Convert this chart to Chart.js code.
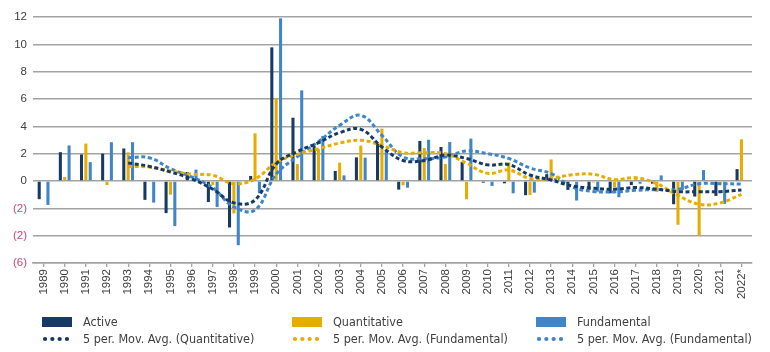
<!DOCTYPE html>
<html>
<head>
<meta charset="utf-8">
<script src="https://cdn.jsdelivr.net/npm/chart.js@4/dist/chart.umd.min.js"></script>
<style>
  html, body { margin: 0; padding: 0; background: #ffffff; }
  #wrap { position: relative; width: 770px; height: 352px; }
  #c { position: absolute; left: 0; top: 0; }
  .leg { position: absolute; font-family: 'Liberation Sans Narrow', 'Arial Narrow', 'DejaVu Sans Condensed', sans-serif; font-size: 12.5px; color: #404040; white-space: nowrap; line-height: 14px; }
  .leg .sw { position: absolute; left: 0; top: 2px; width: 30px; height: 10px; }
  .leg .tx { position: absolute; left: 41px; top: 0; }
</style>
</head>
<body>
<div id="wrap">
  <canvas id="c" width="770" height="352"></canvas>
</div>
<script>
// ---- data ----
const years = ['1989','1990','1991','1992','1993','1994','1995','1996','1997','1998','1999','2000','2001','2002','2003','2004','2005','2006','2007','2008','2009','2010','2011','2012','2013','2014','2015','2016','2017','2018','2019','2020','2021','2022*'];

const active = [-1.33, 2.11, 1.94, 2.0, 2.38, -1.38, -2.35, 0.66, -1.54, -3.4, 0.37, 9.78, 4.63, 2.56, 0.73, 1.73, 2.73, -0.63, 2.93, 2.49, 1.39, -0.12, -0.17, -1.04, 0.5, -0.65, -0.65, -0.9, -0.3, -0.2, -1.7, -1.14, -1.09, 0.87];
const quantitative = [0, 0.29, 2.74, -0.3, 2.1, 0, -1.0, 0.1, -0.3, -2.37, 3.49, 6.05, 1.24, 2.32, 1.34, 2.59, 3.83, -0.32, 2.41, 1.24, -1.34, 0, 1.36, -1.02, 1.58, 0.05, -0.1, -0.45, 0.3, -0.8, -3.2, -4.0, -0.3, 3.05];
const fundamental = [-1.75, 2.6, 1.38, 2.84, 2.84, -1.58, -3.3, 0.83, -1.9, -4.7, -0.9, 11.9, 6.63, 3.3, 0.41, 1.71, 2.24, -0.49, 3.02, 2.85, 3.1, -0.36, -0.9, -0.85, 0.2, -1.43, -0.78, -1.19, -0.2, 0.41, -0.65, 0.8, -1.67, 0];

const maActive = [null, null, null, null, 1.32, 1.07, 0.66, 0.15, -0.6, -1.6, -1.39, 1.24, 2.15, 2.8, 3.54, 3.78, 2.49, 1.5, 1.5, 1.88, 1.65, 1.18, 1.2, 0.44, 0.07, -0.36, -0.53, -0.6, -0.48, -0.6, -0.78, -0.78, -0.78, -0.65];
const maQuant = [null, null, null, null, 1.07, 1.02, 0.73, 0.5, 0.42, -0.2, 0.15, 1.35, 1.95, 2.35, 2.78, 2.98, 2.61, 2.07, 2.07, 2.0, 1.3, 0.56, 0.8, 0.19, 0.19, 0.46, 0.49, 0.1, 0.24, -0.2, -1.05, -1.7, -1.6, -0.98];
const maFund = [null, null, null, null, 1.7, 1.7, 0.9, 0.3, -0.5, -1.9, -2.12, 0.5, 1.78, 2.88, 4.07, 4.8, 3.34, 1.76, 1.63, 1.76, 2.2, 2.0, 1.65, 0.95, 0.54, -0.44, -0.76, -0.8, -0.68, -0.63, -0.6, -0.2, -0.2, -0.22];

const yTickValues = [12, 10, 8, 6, 4, 2, 0, -2, -4, -6];
const yTickLabels = ['12', '10', '8', '6', '4', '2', '0', '(2)', '(2)', '(6)'];

const seriesNames = ['Active', 'Quantitative', 'Fundamental', '5 per. Mov. Avg. (Quantitative)', '5 per. Mov. Avg. (Fundamental)', '5 per. Mov. Avg. (Fundamental)'];

// ---- styling ----
const NAVY = '#173a64';
const GOLD = '#e6ad00';
const BLUE = '#3f86c8';
const GRID = '#a3a3a3';
const TXT = '#404040';
const NEG = '#c8457a';

const barCommon = { categoryPercentage: 0.62, barPercentage: 0.7, order: 2, borderWidth: 0 };
const lineCommon = { type: 'line', borderWidth: 3, borderDash: [4, 2.6], pointRadius: 0, tension: 0.4, fill: false, order: 1, spanGaps: false };

const chart = new Chart(document.getElementById('c'), {
  type: 'bar',
  data: {
    labels: years,
    datasets: [
      Object.assign({ label: seriesNames[0], data: active, backgroundColor: NAVY }, barCommon),
      Object.assign({ label: seriesNames[1], data: quantitative, backgroundColor: GOLD }, barCommon),
      Object.assign({ label: seriesNames[2], data: fundamental, backgroundColor: BLUE }, barCommon),
      Object.assign({ label: seriesNames[3], data: maActive, borderColor: NAVY, backgroundColor: NAVY }, lineCommon),
      Object.assign({ label: seriesNames[4], data: maQuant, borderColor: GOLD, backgroundColor: GOLD }, lineCommon),
      Object.assign({ label: seriesNames[5], data: maFund, borderColor: BLUE, backgroundColor: BLUE }, lineCommon)
    ]
  },
  options: {
    responsive: false,
    animation: false,
    devicePixelRatio: 1,
    layout: { padding: { top: 17, right: 18, bottom: 0, left: 0 } },
    plugins: { legend: { display: false }, tooltip: { enabled: false } },
    scales: {
      x: {
        offset: true,
        grid: { display: true, drawOnChartArea: false, drawTicks: true, tickLength: 4, offset: false, color: GRID, lineWidth: 1.3 },
        border: { display: true, color: GRID, width: 1.5 },
        ticks: {
          autoSkip: false, minRotation: 90, maxRotation: 90, padding: 2,
          color: TXT, font: { family: "'Liberation Sans', Arial, sans-serif", size: 11.5 }
        },
        afterFit: (s) => { s.height = 89; }
      },
      y: {
        min: -6, max: 12,
        afterBuildTicks: (s) => { s.ticks = yTickValues.map(v => ({ value: v })); },
        grid: { color: GRID, lineWidth: 1.5, drawTicks: false },
        border: { display: false },
        ticks: {
          padding: 6,
          color: (ctx) => (ctx.tick && ctx.tick.value < 0) ? NEG : TXT,
          font: { family: "'Liberation Sans', Arial, sans-serif", size: 11.5 },
          callback: (v) => { const i = yTickValues.indexOf(v); return i >= 0 ? yTickLabels[i] : ''; }
        },
        afterFit: (s) => { s.width = 33; }
      }
    }
  }
});

// ---- HTML legend built from the chart's datasets ----
const legendSlots = [
  { x: 42, y: 315 }, { x: 292, y: 315 }, { x: 536, y: 315 },
  { x: 42, y: 332 }, { x: 292, y: 332 }, { x: 536, y: 332 }
];
const wrap = document.getElementById('wrap');
chart.data.datasets.forEach((ds, i) => {
  const slot = legendSlots[i];
  const el = document.createElement('div');
  el.className = 'leg';
  el.style.left = slot.x + 'px';
  el.style.top = slot.y + 'px';
  let sw;
  if (ds.type === 'line') {
    sw = '<svg class="sw" width="30" height="10" viewBox="0 0 30 10"><line x1="3" y1="5" x2="28" y2="5" stroke="' + ds.borderColor + '" stroke-width="4.2" stroke-linecap="round" stroke-dasharray="0.1 7.2"/></svg>';
  } else {
    sw = '<div class="sw" style="background:' + ds.backgroundColor + ';top:2px;height:10px"></div>';
  }
  el.innerHTML = sw + '<span class="tx">' + ds.label + '</span>';
  wrap.appendChild(el);
});
</script>
</body>
</html>
